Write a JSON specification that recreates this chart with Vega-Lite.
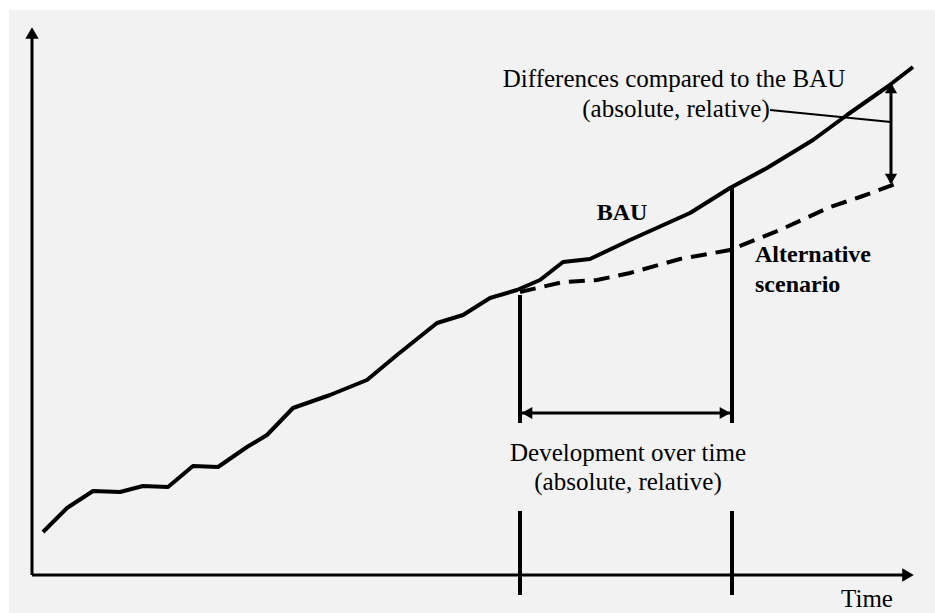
{
  "$schema": "https://vega.github.io/schema/vega-lite/v6.json",
  "width": 935,
  "height": 613,
  "padding": 0,
  "autosize": {"type": "fit", "contains": "padding"},
  "background": "#ffffff",
  "config": {"view": {"stroke": null}, "axis": {"disable": true}},
  "datasets": {
    "panel": [{"x": -23, "x2": 903, "y": -38, "y2": 565}],
    "bau": [
      {"t": 11, "v": 43}, {"t": 21, "v": 53}, {"t": 35, "v": 67}, {"t": 61, "v": 84},
      {"t": 88, "v": 83}, {"t": 111, "v": 89}, {"t": 136, "v": 88}, {"t": 161, "v": 109},
      {"t": 186, "v": 108}, {"t": 215, "v": 128}, {"t": 235, "v": 140}, {"t": 261, "v": 167},
      {"t": 298, "v": 180}, {"t": 335, "v": 195}, {"t": 365, "v": 220}, {"t": 405, "v": 252},
      {"t": 431, "v": 260}, {"t": 458, "v": 277}, {"t": 485, "v": 285}, {"t": 508, "v": 295},
      {"t": 531, "v": 313}, {"t": 558, "v": 316}, {"t": 598, "v": 335}, {"t": 658, "v": 362},
      {"t": 698, "v": 387}, {"t": 735, "v": 407}, {"t": 781, "v": 435}, {"t": 815, "v": 460},
      {"t": 855, "v": 488}, {"t": 881, "v": 508}
    ],
    "alt": [
      {"t": 488, "v": 283}, {"t": 531, "v": 293}, {"t": 565, "v": 295}, {"t": 598, "v": 302},
      {"t": 648, "v": 316}, {"t": 698, "v": 325}, {"t": 748, "v": 345}, {"t": 798, "v": 368},
      {"t": 828, "v": 378}, {"t": 866, "v": 392}
    ],
    "axes": [
      {"x": 0, "y": 0, "x2": 0, "y2": 537},
      {"x": 0, "y": 0, "x2": 872, "y2": 0}
    ],
    "markers": [
      {"x": 488, "y": 280, "x2": 488, "y2": 152},
      {"x": 488, "y": 64, "x2": 488, "y2": -20},
      {"x": 700, "y": 388, "x2": 700, "y2": 152},
      {"x": 700, "y": 64, "x2": 700, "y2": -20}
    ],
    "arrows": [
      {"x": 490, "y": 162, "x2": 698, "y2": 162},
      {"x": 859, "y": 490, "x2": 859, "y2": 392}
    ],
    "leader": [{"x": 738, "y": 465, "x2": 859, "y2": 453}],
    "heads": [
      {"x": 0, "y": 542, "dir": "up", "big": "axis"},
      {"x": 876, "y": 0, "dir": "right", "big": "axis"},
      {"x": 495, "y": 162, "dir": "left", "big": "inner"},
      {"x": 693, "y": 162, "dir": "right", "big": "inner"},
      {"x": 859, "y": 487, "dir": "up", "big": "inner"},
      {"x": 859, "y": 396, "dir": "down", "big": "inner"}
    ],
    "labels": [
      {"x": 642, "y": 488, "text": "Differences compared to the BAU"},
      {"x": 644, "y": 458, "text": "(absolute, relative)"},
      {"x": 596, "y": 114, "text": "Development over time"},
      {"x": 596, "y": 85, "text": "(absolute, relative)"},
      {"x": 835, "y": -32, "text": "Time"}
    ],
    "boldcenter": [{"x": 590, "y": 362, "text": "BAU"}],
    "boldleft": [
      {"x": 723, "y": 320, "text": "Alternative"},
      {"x": 723, "y": 290, "text": "scenario"}
    ]
  },
  "layer": [
    {
      "data": {"name": "panel"},
      "mark": {"type": "rect", "color": "#f2f2f2"},
      "encoding": {
        "x": {"field": "x", "type": "quantitative", "scale": {"domain": [-32, 903], "nice": false, "zero": false}},
        "x2": {"field": "x2"},
        "y": {"field": "y", "type": "quantitative", "scale": {"domain": [-38, 575], "nice": false, "zero": false}},
        "y2": {"field": "y2"}
      }
    },
    {
      "data": {"name": "bau"},
      "mark": {"type": "line", "color": "#000000", "strokeWidth": 4, "strokeJoin": "round"},
      "encoding": {
        "x": {"field": "t", "type": "quantitative"},
        "y": {"field": "v", "type": "quantitative"}
      }
    },
    {
      "data": {"name": "alt"},
      "mark": {"type": "line", "color": "#000000", "strokeWidth": 4, "strokeDash": [16, 9]},
      "encoding": {
        "x": {"field": "t", "type": "quantitative"},
        "y": {"field": "v", "type": "quantitative"}
      }
    },
    {
      "data": {"name": "axes"},
      "mark": {"type": "rule", "color": "#000000", "strokeWidth": 3},
      "encoding": {
        "x": {"field": "x", "type": "quantitative"}, "x2": {"field": "x2"},
        "y": {"field": "y", "type": "quantitative"}, "y2": {"field": "y2"}
      }
    },
    {
      "data": {"name": "markers"},
      "mark": {"type": "rule", "color": "#000000", "strokeWidth": 4},
      "encoding": {
        "x": {"field": "x", "type": "quantitative"}, "x2": {"field": "x2"},
        "y": {"field": "y", "type": "quantitative"}, "y2": {"field": "y2"}
      }
    },
    {
      "data": {"name": "arrows"},
      "mark": {"type": "rule", "color": "#000000", "strokeWidth": 3},
      "encoding": {
        "x": {"field": "x", "type": "quantitative"}, "x2": {"field": "x2"},
        "y": {"field": "y", "type": "quantitative"}, "y2": {"field": "y2"}
      }
    },
    {
      "data": {"name": "leader"},
      "mark": {"type": "rule", "color": "#000000", "strokeWidth": 2},
      "encoding": {
        "x": {"field": "x", "type": "quantitative"}, "x2": {"field": "x2"},
        "y": {"field": "y", "type": "quantitative"}, "y2": {"field": "y2"}
      }
    },
    {
      "data": {"name": "heads"},
      "mark": {"type": "point", "filled": true, "color": "#000000", "opacity": 1},
      "encoding": {
        "x": {"field": "x", "type": "quantitative"},
        "y": {"field": "y", "type": "quantitative"},
        "shape": {"field": "dir", "type": "nominal", "legend": null,
          "scale": {"domain": ["up", "down", "left", "right"], "range": ["triangle-up", "triangle-down", "triangle-left", "triangle-right"]}},
        "size": {"field": "big", "type": "nominal", "legend": null,
          "scale": {"domain": ["axis", "inner"], "range": [180, 150]}}
      }
    },
    {
      "data": {"name": "labels"},
      "mark": {"type": "text", "font": "Liberation Serif", "fontSize": 25, "color": "#000000", "align": "center", "baseline": "alphabetic"},
      "encoding": {
        "x": {"field": "x", "type": "quantitative"},
        "y": {"field": "y", "type": "quantitative"},
        "text": {"field": "text"}
      }
    },
    {
      "data": {"name": "boldcenter"},
      "mark": {"type": "text", "font": "Liberation Serif", "fontSize": 24, "fontWeight": "bold", "color": "#000000", "align": "center", "baseline": "middle"},
      "encoding": {
        "x": {"field": "x", "type": "quantitative"},
        "y": {"field": "y", "type": "quantitative"},
        "text": {"field": "text"}
      }
    },
    {
      "data": {"name": "boldleft"},
      "mark": {"type": "text", "font": "Liberation Serif", "fontSize": 24, "fontWeight": "bold", "color": "#000000", "align": "left", "baseline": "middle"},
      "encoding": {
        "x": {"field": "x", "type": "quantitative"},
        "y": {"field": "y", "type": "quantitative"},
        "text": {"field": "text"}
      }
    }
  ]
}
